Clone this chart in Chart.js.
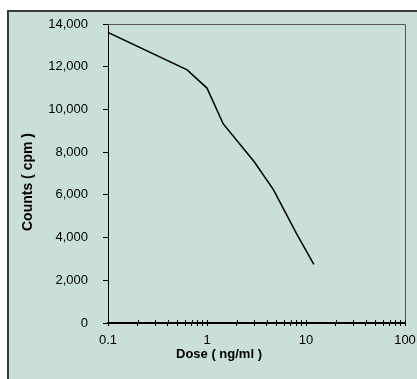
<!DOCTYPE html>
<html>
<head>
<meta charset="utf-8">
<script src="https://cdn.jsdelivr.net/npm/chart.js@4/dist/chart.umd.min.js"></script>
<style>
  html, body { margin: 0; padding: 0; background: #fff; }
  #wrap { position: relative; width: 417px; height: 379px; overflow: hidden; }
  #frame {
    position: absolute; left: 7px; top: 10px; width: 420px; height: 380px;
    background: #c9dfd8; border-left: 2px solid #3a3a3a; border-top: 2px solid #3a3a3a;
  }
  #chart { position: absolute; left: 0; top: 0; }
</style>
</head>
<body>
<div id="wrap">
  <div id="frame"></div>
  <canvas id="chart" width="417" height="379"></canvas>
</div>
<script>
// Data
const doses = [0.1, 0.63, 1, 1.46, 3, 4.7, 8, 12];
const counts = [13600, 11850, 11000, 9320, 7550, 6230, 4200, 2750];

// Axis ticks
const xTickValues = [0.1, 0.2, 0.3, 0.4, 0.5, 0.6, 0.7, 0.8, 0.9,
  1, 2, 3, 4, 5, 6, 7, 8, 9,
  10, 20, 30, 40, 50, 60, 70, 80, 90, 100];
const xTickLabels = { 0.1: '0.1', 1: '1', 10: '10', 100: '100' };
const yTickValues = [0, 2000, 4000, 6000, 8000, 10000, 12000, 14000];

const xTitle = 'Dose ( ng/ml )';
const yTitle = 'Counts ( cpm )';

const FONT = '"Liberation Sans", Arial, sans-serif';

// top/right plot border, inner half of x ticks, axis titles
const decorPlugin = {
  id: 'decor',
  afterDraw(chart) {
    const { ctx, chartArea: a } = chart;
    const xs = chart.scales.x;
    ctx.save();
    ctx.strokeStyle = '#555';
    ctx.lineWidth = 1;
    ctx.beginPath();
    ctx.moveTo(a.left, a.top + 0.5);
    ctx.lineTo(a.right + 0.5, a.top + 0.5);
    ctx.lineTo(a.right + 0.5, a.bottom);
    ctx.stroke();

    // Excel-style ticks cross the axis
    ctx.strokeStyle = '#000';
    ctx.beginPath();
    xs.ticks.forEach(t => {
      const px = Math.round(xs.getPixelForValue(t.value)) + 0.5;
      ctx.moveTo(px, a.bottom - 3);
      ctx.lineTo(px, a.bottom);
    });
    ctx.stroke();

    ctx.fillStyle = '#000';
    ctx.textAlign = 'center';
    ctx.textBaseline = 'middle';
    ctx.font = 'bold 13px ' + FONT;
    ctx.fillText(xTitle, 219, 354);
    ctx.font = 'bold 14px ' + FONT;
    ctx.translate(28, 182);
    ctx.rotate(-Math.PI / 2);
    ctx.fillText(yTitle, 0, 0);
    ctx.restore();
  }
};

new Chart(document.getElementById('chart').getContext('2d'), {
  type: 'line',
  data: {
    datasets: [{
      data: doses.map((d, i) => ({ x: d, y: counts[i] })),
      borderColor: '#000',
      borderWidth: 1.5,
      pointRadius: 0,
      tension: 0,
      fill: false
    }]
  },
  options: {
    responsive: false,
    animation: false,
    layout: { padding: { top: 24, right: 12, left: 0, bottom: 0 } },
    plugins: { legend: { display: false }, tooltip: { enabled: false } },
    scales: {
      x: {
        type: 'logarithmic',
        min: 0.1,
        max: 100,
        afterBuildTicks: (s) => { s.ticks = xTickValues.map(v => ({ value: v })); },
        afterFit: (s) => { s.height = 56; s.paddingLeft = 0; s.paddingRight = 0; },
        ticks: {
          autoSkip: false,
          maxRotation: 0,
          padding: 7,
          color: '#000',
          font: { family: FONT, size: 13 },
          callback: (v) => xTickLabels[v] || ''
        },
        grid: { drawOnChartArea: false, tickLength: 3, tickColor: '#000', tickWidth: 1 },
        border: { color: '#000', width: 2 }
      },
      y: {
        type: 'linear',
        min: 0,
        max: 14000,
        afterBuildTicks: (s) => { s.ticks = yTickValues.map(v => ({ value: v })); },
        afterFit: (s) => { s.width = 108; s.paddingTop = 0; s.paddingBottom = 0; },
        ticks: {
          padding: 15,
          color: '#000',
          font: { family: FONT, size: 13 },
          callback: (v) => v.toLocaleString('en-US')
        },
        grid: { drawOnChartArea: false, tickLength: 5, tickColor: '#000' },
        border: { color: '#000', width: 1 }
      }
    }
  },
  plugins: [decorPlugin]
});
</script>
</body>
</html>
